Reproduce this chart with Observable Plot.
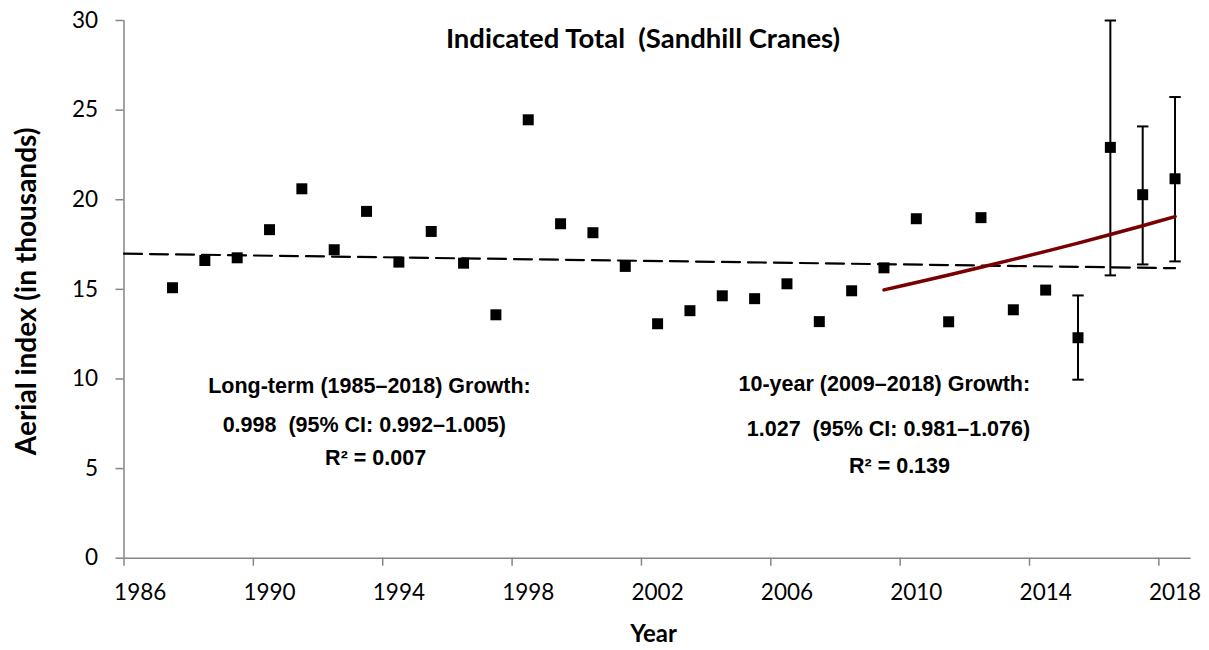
<!DOCTYPE html>
<html><head><meta charset="utf-8">
<script src="https://cdn.jsdelivr.net/npm/d3@7"></script>
<script src="https://cdn.jsdelivr.net/npm/@observablehq/plot@0.6"></script>
<style>
html,body{margin:0;padding:0;background:#fff;}
#chart{width:1209px;height:650px;}
</style></head><body><div id="chart"></div>
<script>
// ---- data ----
const years = [1987,1988,1989,1990,1991,1992,1993,1994,1995,1996,1997,1998,1999,2000,2001,2002,
               2003,2004,2005,2006,2007,2008,2009,2010,2011,2012,2013,2014,2015,2016,2017,2018];
const values = [15.09,16.61,16.76,18.33,20.61,17.21,19.35,16.52,18.23,16.46,13.58,24.46,18.66,18.16,16.28,13.08,
                13.81,14.64,14.48,15.31,13.20,14.92,16.20,18.94,13.19,19.00,13.86,14.96,12.30,22.92,20.28,21.17];
const errYears = [2015, 2016, 2017, 2018];
const errLow   = [9.96, 15.78, 16.39, 16.56];
const errHigh  = [14.66, 30.00, 24.09, 25.73];
const longTrendYears  = [1985.5, 2018];
const longTrendValues = [16.99, 16.18];
const shortTrendYears  = [2009,2010,2011,2012,2013,2014,2015,2016,2017,2018];
const shortTrendValues = [14.97,15.38,15.80,16.23,16.67,17.12,17.58,18.06,18.55,19.06];
const xTickLabels = [1986,1990,1994,1998,2002,2006,2010,2014,2018];
const yTicks = [0,5,10,15,20,25,30];
const titleText = "Indicated Total  (Sandhill Cranes)";
const yLabelText = "Aerial index (in thousands)";
const xLabelText = "Year";
const noteTexts = ["Long-term (1985\u20132018) Growth:", "0.998  (95% CI: 0.992\u20131.005)", "R\u00b2 = 0.007",
                   "10-year (2009\u20132018) Growth:", "1.027  (95% CI: 0.981\u20131.076)", "R\u00b2 = 0.139"];
const noteX = [1993.09, 1992.93, 1993.28, 2009.01, 2009.14, 2009.48];
const noteY = [9.59, 7.43, 5.59, 9.73, 7.18, 5.12];

// ---- tables built from the arrays ----
const points = years.map((year, i) => ({year, value: values[i]}));
const errs = errYears.map((year, i) => ({year, lo: errLow[i], hi: errHigh[i]}));
const longTrend = longTrendYears.map((year, i) => ({year, value: longTrendValues[i]}));
const shortTrend = shortTrendYears.map((year, i) => ({year, value: shortTrendValues[i]}));
const notes = noteTexts.map((text, i) => ({text, x: noteX[i], y: noteY[i]}));

const calibri = "Lato, Carlito, Calibri, sans-serif";
const arialB = "'Liberation Sans', Arial, Helvetica, sans-serif";
const axisGray = "#868686";
const cap = {draw(ctx) { ctx.moveTo(-5.7, 0); ctx.lineTo(5.7, 0); }};

const chart = Plot.plot({
  width: 1209, height: 650,
  marginLeft: 123.5, marginRight: 18.3, marginTop: 20, marginBottom: 92.3,
  x: {type: "linear", domain: [1985.5, 2018.5]},
  y: {domain: [0, 30]},
  style: {background: "#fff", color: "#000", fontFamily: calibri, overflow: "visible"},
  marks: [
    Plot.ruleY([0], {stroke: axisGray, strokeWidth: 1.5}),
    Plot.ruleX([1985.5], {stroke: axisGray, strokeWidth: 1.5}),
    Plot.axisY({ticks: yTicks, tickSize: 8, tickPadding: 18, stroke: axisGray, strokeWidth: 1.5,
                fill: "#000", fontSize: 22.5, label: null}),
    Plot.axisX({ticks: xTickLabels.map(d => d - 0.5), tickSize: 8, tickFormat: () => "",
                stroke: axisGray, strokeWidth: 1.5, label: null}),
    Plot.axisX({ticks: xTickLabels, tickSize: 0, tickPadding: 26, tickFormat: d => String(d),
                fill: "#000", fontSize: 22.5, label: null}),
    Plot.line(longTrend, {x: "year", y: "value", stroke: "#000", strokeWidth: 2.2, strokeDasharray: "18,8"}),
    Plot.ruleX(errs, {x: "year", y1: "lo", y2: "hi", stroke: "#000", strokeWidth: 2}),
    Plot.dot(errs, {x: "year", y: "lo", symbol: cap, stroke: "#000", strokeWidth: 2, fill: "none"}),
    Plot.dot(errs, {x: "year", y: "hi", symbol: cap, stroke: "#000", strokeWidth: 2, fill: "none"}),
    Plot.dot(points, {x: "year", y: "value", symbol: "square", r: 6.2, fill: "#000"}),
    Plot.line(shortTrend, {x: "year", y: "value", stroke: "#780000", strokeWidth: 3.5, curve: "catmull-rom"}),
    Plot.text(notes, {x: "x", y: "y", text: "text", fontFamily: arialB, fontWeight: "bold", fontSize: 21.5, fill: "#000"}),
    Plot.text([titleText], {frameAnchor: "top", dx: -14.6, dy: 18.5, lineAnchor: "middle",
                            fontFamily: calibri, fontWeight: "bold", fontSize: 27.5, fill: "#000"}),
    Plot.text([yLabelText], {frameAnchor: "left", dx: -97, dy: 2, rotate: -90, textAnchor: "middle",
                             lineAnchor: "middle", fontFamily: calibri, fontWeight: "bold", fontSize: 28, fill: "#000"}),
    Plot.text([xLabelText], {frameAnchor: "bottom", dx: -4, dy: 76, lineAnchor: "middle",
                             fontFamily: calibri, fontWeight: "bold", fontSize: 24, fill: "#000"})
  ]
});
document.getElementById("chart").appendChild(chart);
</script>
</body></html>
